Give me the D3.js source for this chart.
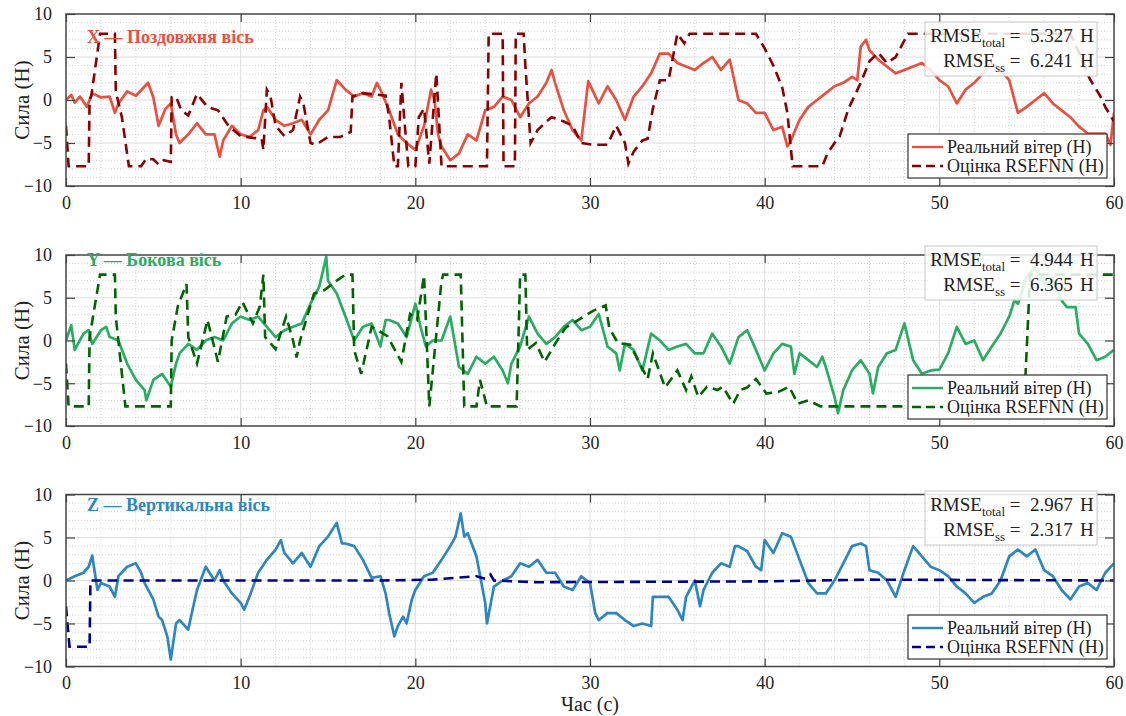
<!DOCTYPE html>
<html>
<head>
<meta charset="utf-8">
<script src="https://cdn.jsdelivr.net/npm/d3@7"></script>
<style>
  body { margin: 0; background: #fff; }
  svg text { font-family: "Liberation Serif", "Times New Roman", Tinos, "DejaVu Serif", serif; }
</style>
</head>
<body>
<svg id="chart" width="1126" height="716"></svg>
<script>
// time axis + y ticks
const xTicks = [0, 10, 20, 30, 40, 50, 60]
const yTicks = [-10, -5, 0, 5, 10]

const legendLabels = ['Реальний вітер (Н)', 'Оцінка RSEFNN (Н)']

// [t, value] pairs
const xReal = [[0,0],[0.3,0.6],[0.5,-0.3],[0.8,0.4],[1.2,-0.8],[1.5,0.8],[2,0.3],[2.5,0.4],[2.8,-1.5],[3,-0.4],[3.5,1],[4,0.5],[4.7,2],[5,0.3],[5.3,-3],[5.7,-1],[6,-0.4],[6.3,-4],[6.5,-5],[7,-4],[7.5,-2.7],[8,-4],[8.5,-4],[8.8,-6.6],[9,-4.7],[9.5,-3],[10,-4],[10.5,-4.3],[11,-3.5],[11.3,-1.2],[11.5,-0.8],[12,-2.3],[12.5,-3],[13,-2.7],[13.5,-2.3],[14,-4],[14.5,-2.3],[15,-1.2],[15.5,2.3],[16,1.2],[16.5,0.4],[17,0.8],[17.5,0.4],[17.8,2],[18,1.2],[18.5,-1.2],[19,-4],[19.5,-5],[20,-5.8],[20.5,-3],[20.9,1.2],[21.1,0],[21.3,-4],[21.5,-5.4],[22,-7],[22.5,-6.2],[23,-4],[23.5,-4.7],[24,-1.2],[24.5,-0.8],[25,0.4],[25.5,0],[26,-2],[26.5,-0.4],[27,0.4],[27.5,2],[27.8,3.5],[28,2],[28.5,-1.2],[29,-3.5],[29.5,-4.7],[29.9,2.2],[30.5,-0.4],[31,1.6],[31.5,0],[32,-2.3],[32.5,0.4],[33,1.6],[33.5,3.1],[34,5.4],[34.5,5.4],[35,4.3],[35.5,3.9],[36,3.5],[36.5,4.3],[37,5],[37.5,3.5],[38,4.7],[38.5,0],[39,-0.4],[39.5,-1.5],[40,-1.5],[40.5,-3.5],[41,-3.1],[41.3,-5.4],[41.5,-4.7],[42,-2.3],[42.5,-0.8],[43,0],[43.5,0.8],[44,1.6],[44.5,2],[45,2.7],[45.3,2.3],[45.5,6.2],[45.8,7],[46,5.8],[46.5,4.7],[47,3.9],[47.5,3.1],[48,3.5],[48.5,3.9],[49,4.3],[49.5,3.5],[50,2.3],[50.5,1.6],[51,-0.4],[51.5,1.2],[52,2],[52.5,3.1],[53,4.3],[53.5,3.5],[54,2.3],[54.3,0],[54.5,-1.5],[55,-0.8],[55.5,0],[56,0.8],[56.5,-0.4],[57,-1.2],[57.5,-2],[58,-3.1],[58.5,-3.9],[59,-3.9],[59.5,-3.9],[59.8,-5.2],[60,-1.5]]
const xEst = [[0,-3],[0.15,-7.7],[1.3,-7.7],[1.35,0],[1.45,0.5],[1.95,7.7],[2.8,7.7],[2.85,1],[3.2,-2],[3.6,-7.7],[4.3,-7.7],[4.6,-6.8],[5,-6.9],[5.3,-7.5],[5.6,-7],[6,-7.2],[6.05,0.3],[6.3,0.4],[6.6,-1.2],[7,-1.8],[7.5,0.7],[8.1,-0.8],[8.7,-1.2],[9.3,-3],[10,-4.2],[10.7,-4.4],[11.2,-4.5],[11.3,-5.8],[11.5,1.2],[11.7,0.5],[12,-3],[12.5,-4.2],[13,-3.5],[13.4,0.4],[13.6,-0.5],[14,-5],[14.3,-5.2],[15,-4.3],[15.7,-4.3],[16.3,-3.7],[16.4,0.4],[17,0.8],[18.3,0.5],[18.5,-2],[18.8,-7.7],[19,-7.7],[19.2,2],[19.4,-3],[19.6,-7.7],[20,-7.7],[20.2,-2],[20.5,-1],[20.8,-7.4],[21.2,3.1],[21.4,-4],[21.5,-7.7],[24.1,-7.7],[24.2,7.7],[25,7.7],[25.05,-7.7],[25.7,-7.7],[25.75,7.7],[26.2,7.7],[26.3,4],[26.6,-5],[27,-3.5],[27.5,-2.5],[27.8,-2],[28.5,-2.5],[29,-3],[29.5,-5],[30.2,-5.2],[31,-5.2],[31.5,-3],[32,-5],[32.2,-7.4],[32.5,-6],[33,-4.7],[33.3,-4.5],[33.6,-1],[34,2.3],[34.5,2.3],[35,7.7],[35.4,6.6],[35.7,7.7],[39.5,7.7],[40,6],[40.5,4],[41,1.5],[41.3,-1.5],[41.6,-7.7],[43.3,-7.7],[43.6,-6.2],[44,-5],[44.3,-4.2],[44.8,-1],[45.5,2],[46,4.5],[46.5,5.5],[47,4.3],[47.5,5],[48.2,7.7],[57.5,7.7],[58,5.5],[58.6,2.5],[59.2,0.5],[59.5,-0.8],[60,-2.5]]

const yReal = [[0,0],[0.3,1.8],[0.5,-1.1],[1,0.8],[1.3,1.2],[1.5,-0.4],[2,1.2],[2.3,1.6],[2.5,0.4],[3,0],[3.5,-2.7],[4,-4.6],[4.5,-5.8],[4.6,-7],[5,-4.6],[5.5,-3.9],[6,-5.4],[6.3,-2.7],[6.5,-1.5],[7,-0.4],[7.5,-1.1],[8,0],[8.5,0.4],[9,0],[9.5,2],[10,2.8],[10.5,2.4],[11,2.8],[11.5,1.6],[12,0.4],[12.5,1.2],[13,1.6],[13.5,2],[14,4.3],[14.5,6.3],[14.9,9.8],[15,7],[15.5,5.5],[16,2.8],[16.5,0],[17,1.6],[17.5,2],[18,-0.7],[18.3,2.4],[18.5,2.4],[19,2],[19.5,0.4],[20,4.3],[20.3,1.6],[20.6,-0.7],[21,0],[21.5,0],[22,2.8],[22.5,-3.1],[23,-3.9],[23.5,-1.9],[24,-2.7],[24.5,-1.9],[25,-3.5],[25.3,-5],[25.5,-2.7],[26,-0.7],[26.5,2.8],[27,0.8],[27.5,-0.4],[28,0.4],[28.5,1.6],[29,2.4],[29.5,1.2],[30,1.6],[30.5,3.1],[30.7,1.6],[31,-0.7],[31.5,-1.5],[31.7,-3.5],[32,-0.4],[32.5,-1.1],[33,-3.5],[33.5,0.8],[34,0],[34.5,-1.1],[35,-0.7],[35.5,-0.4],[36,-1.5],[36.5,-1.5],[37,0.8],[37.5,-0.7],[38,-2.7],[38.5,0.4],[39,1.2],[39.5,-1.1],[40,-3.5],[40.5,-1.5],[41,-0.4],[41.5,-0.7],[41.7,-3.9],[42,-1.5],[42.5,-2.3],[43,-3.1],[43.3,-1.9],[43.5,-3.1],[44,-6.6],[44.2,-8.5],[44.5,-5.8],[45,-3.5],[45.5,-2.3],[46,-3.9],[46.2,-6.2],[46.5,-3.1],[47,-1.5],[47.5,-1.1],[48,2],[48.5,-2.3],[49,-3.9],[49.5,-3.5],[50,-3.4],[50.5,-1.5],[51,1.6],[51.5,-0.4],[52,0],[52.5,-2.3],[53,-0.7],[53.5,0.8],[54,2.8],[54.3,4.7],[54.5,4.3],[55,7.4],[55.5,8.6],[56,6.6],[56.5,7],[57,4.7],[57.3,3.9],[57.8,3.9],[58,0.8],[58.5,-0.4],[59,-2.3],[59.5,-1.9],[60,-1.1]]
const yEst = [[0,-2.7],[0.15,-7.7],[1.3,-7.7],[1.35,0.4],[1.95,7.7],[2.8,7.7],[2.85,2.8],[3.4,-7.7],[6,-7.7],[6.05,0],[6.4,4],[6.9,6.6],[7,0.4],[7.5,-2.7],[8.1,2.4],[8.7,-2.5],[9.2,2.8],[9.7,3],[10.1,4.5],[10.7,2],[11.1,4],[11.3,7.7],[11.4,0.4],[12,-1],[12.6,2.8],[13,0],[13.2,-2],[13.4,0],[14.2,5.5],[14.8,5.9],[15.5,7],[16,7.7],[16.4,7.7],[16.5,-1.1],[16.9,-3.9],[17.5,1.6],[18.4,0.5],[19.2,-2.5],[19.7,3.1],[20.1,2.4],[20.5,7.6],[20.8,-7.7],[21.5,7],[21.6,7.7],[22.6,7.7],[22.8,-7.7],[23.5,-7.7],[23.7,-4.6],[24.1,-7.7],[25.8,-7.7],[26,7.7],[26.3,7.7],[26.4,-1.1],[26.9,-0.3],[27.4,-2.5],[28,-0.4],[28.6,1.5],[30.2,3.5],[30.9,4.1],[31.1,1.5],[31.6,-0.3],[32.3,-0.5],[33.3,-4.5],[33.6,-1.5],[34.3,-5.5],[35,-3.5],[35.5,-5.8],[35.8,-4.2],[36.2,-6.6],[36.7,-5.4],[37.3,-5.8],[37.6,-5.4],[38.2,-7.4],[38.6,-5.8],[39,-5.5],[39.5,-4.5],[40.1,-6.2],[40.8,-6],[41.4,-5.4],[41.9,-7.4],[42.5,-7],[43.2,-7.7],[54.85,-7.7],[55.2,7.7],[60,7.7]]

const zReal = [[0,0],[0.5,0.5],[1,0.9],[1.3,1.6],[1.5,2.9],[1.8,-1.1],[2,-0.3],[2.5,-0.7],[2.8,-1.9],[3,0.5],[3.5,1.6],[4,2],[4.3,0.9],[4.5,-0.3],[5,-2.2],[5.3,-4.2],[5.5,-4.6],[5.8,-6.5],[6,-9.2],[6.3,-5],[6.5,-4.6],[7,-5.7],[7.2,-3.8],[7.5,-1.1],[8,1.6],[8.5,0],[8.8,1.2],[9,0],[9.5,-1.5],[10,-2.6],[10.2,-3.4],[10.5,-1.9],[11,0.9],[11.5,2.4],[12,3.6],[12.3,4.7],[12.5,3.2],[13,2],[13.5,3.2],[14,1.6],[14.5,4],[15,5.1],[15.5,6.7],[15.8,4.3],[16,4.3],[16.5,4],[17,2.4],[17.5,0.3],[18,0.5],[18.3,-1.5],[18.5,-3.8],[18.8,-6.5],[19,-5.3],[19.3,-4.2],[19.5,-5],[19.8,-2.2],[20,-1.1],[20.5,0.5],[21,0.9],[21.5,2.4],[22,4],[22.3,5.1],[22.6,7.8],[22.8,5.1],[23,5.5],[23.5,2.8],[24,-2.6],[24.1,-5],[24.5,-0.7],[25,0],[25.5,0.5],[26,2],[26.5,1.6],[27,2.4],[27.5,0.9],[28,0.9],[28.5,-0.7],[29,-1.1],[29.5,0.5],[30,-0.3],[30.3,-3.8],[30.5,-4.6],[31,-3.8],[31.5,-3.8],[32,-4.6],[32.5,-5.3],[33,-5],[33.5,-5.3],[33.6,-1.9],[34,-1.9],[34.5,-1.9],[35,-3.4],[35.3,-4.6],[35.5,-1.9],[36,0],[36.3,-3],[36.5,-1.1],[37,0.9],[37.5,2],[38,1.6],[38.3,4],[38.5,4],[39,3.4],[39.5,1.6],[39.8,1.2],[40,4.7],[40.5,3.2],[41,5.5],[41.5,5.1],[42,2.4],[42.5,-0.3],[43,-1.5],[43.5,-1.5],[44,0],[44.5,2],[45,4],[45.5,4.3],[45.8,4],[46,1.2],[46.5,0.9],[47,0],[47.5,-1.9],[48,1.2],[48.5,4],[49,2.8],[49.5,1.6],[50,1.2],[50.5,0.5],[51,-0.7],[51.5,-1.5],[52,-2.6],[52.5,-1.9],[53,-1.5],[53.5,0],[54,2.8],[54.5,3.6],[55,2.8],[55.5,3.6],[56,1.2],[56.5,0.5],[57,-1.1],[57.5,-2.2],[58,-0.7],[58.5,-0.3],[59,-1.1],[59.5,0.9],[60,2]]
const zEst = [[0,-3],[0.2,-7.7],[1.35,-7.7],[1.4,0],[18,0],[21,0.1],[23.5,0.5],[24,0.2],[24.3,0.7],[24.5,0],[27,-0.2],[40,-0.1],[46,0.1],[60,0]]

const panelNames = ['X — Поздовжня вісь', 'Y — Бокова вісь', 'Z — Вертикальна вісь']
const rmseTotal = ['5.327', '4.944', '2.967']
const rmseSs = ['6.241', '6.365', '2.317']

const panels = [
    { real: xReal, est: xEst, c1: '#e8503f', c2: '#8b0000', top: 14, bottom: 186, box: 22, leg: 134, name: 43 },
    { real: yReal, est: yEst, c1: '#2aad62', c2: '#006400', top: 255, bottom: 426, box: 246, leg: 375, name: 266 },
    { real: zReal, est: zEst, c1: '#2e86c1', c2: '#00008b', top: 494.5, bottom: 666.5, box: 491, leg: 615, name: 511 }
]

const serif = '"Liberation Serif", "Times New Roman", Tinos, "DejaVu Serif", serif'
const svg = d3.select('#chart').attr('font-family', serif)
const x = d3.scaleLinear().domain([0, 60]).range([66, 1114])
const left = 66, right = 1114

panels.forEach((p, i) => {
    const y = d3.scaleLinear().domain([-10, 10]).range([p.bottom, p.top])
    const g = svg.append('g')

    g.append('clipPath').attr('id', 'clip' + i)
      .append('rect')
        .attr('x', left).attr('y', p.top)
        .attr('width', right - left).attr('height', p.bottom - p.top)

    // minor grid
    g.append('g').selectAll('line')
      .data(d3.range(0, 61, 2).filter(t => t % 10))
      .join('line')
        .attr('x1', d => x(d)).attr('x2', d => x(d))
        .attr('y1', p.top).attr('y2', p.bottom)
        .attr('stroke', '#d4d4d4').attr('stroke-dasharray', '1,2')
    g.append('g').selectAll('line')
      .data(d3.range(-10, 11, 1).filter(v => v % 5))
      .join('line')
        .attr('x1', left).attr('x2', right)
        .attr('y1', d => y(d)).attr('y2', d => y(d))
        .attr('stroke', '#d4d4d4').attr('stroke-dasharray', '1,2')

    // major grid
    g.append('g').selectAll('line')
      .data(xTicks.slice(1, -1))
      .join('line')
        .attr('x1', d => x(d)).attr('x2', d => x(d))
        .attr('y1', p.top).attr('y2', p.bottom)
        .attr('stroke', '#dcdcdc')
    g.append('g').selectAll('line')
      .data(yTicks.slice(1, -1))
      .join('line')
        .attr('x1', left).attr('x2', right)
        .attr('y1', d => y(d)).attr('y2', d => y(d))
        .attr('stroke', '#dcdcdc')

    const line = d3.line().x(d => x(d[0])).y(d => y(d[1]))

    const plot = g.append('g').attr('clip-path', `url(#clip${i})`)
    plot.append('path').datum(p.real)
        .attr('d', line)
        .attr('fill', 'none').attr('stroke', p.c1)
        .attr('stroke-width', 2.7).attr('stroke-linejoin', 'round')
    plot.append('path').datum(p.est)
        .attr('d', line)
        .attr('fill', 'none').attr('stroke', p.c2)
        .attr('stroke-width', 2.6).attr('stroke-dasharray', '10,6')

    // axes with inward ticks
    const axB = g.append('g').attr('transform', `translate(0,${p.bottom})`)
        .call(d3.axisBottom(x).tickValues(xTicks).tickSize(-8).tickPadding(10))
    const axT = g.append('g').attr('transform', `translate(0,${p.top})`)
        .call(d3.axisTop(x).tickValues(xTicks).tickSize(-8).tickFormat(''))
    const axL = g.append('g').attr('transform', `translate(${left},0)`)
        .call(d3.axisLeft(y).tickValues(yTicks).tickSize(-9).tickPadding(14))
    const axR = g.append('g').attr('transform', `translate(${right},0)`)
        .call(d3.axisRight(y).tickValues(yTicks).tickSize(-9).tickFormat(''))
    ;[axB, axT, axL, axR].forEach(a => {
        a.attr('font-family', serif)
        a.select('.domain').remove()
        a.selectAll('line').attr('stroke', '#444').attr('stroke-width', 1.2)
        a.selectAll('text').attr('font-size', 18).attr('fill', '#222')
    })
    axB.selectAll('text').attr('dy', '0.7em')

    g.append('rect')
        .attr('x', left).attr('y', p.top)
        .attr('width', right - left).attr('height', p.bottom - p.top)
        .attr('fill', 'none').attr('stroke', '#444').attr('stroke-width', 1.5)

    g.append('text')
        .attr('transform', `translate(22,${(p.top + p.bottom) / 2}) rotate(-90)`)
        .attr('text-anchor', 'middle').attr('dy', '0.35em')
        .attr('font-size', 21).attr('fill', '#222')
        .text('Сила (Н)')

    // panel name
    g.append('text')
        .attr('x', 87).attr('y', p.name)
        .attr('font-size', 18).attr('font-weight', 'bold')
        .attr('fill', p.c1)
        .text(panelNames[i])

    // rmse box
    const rb = g.append('g')
    rb.append('rect')
        .attr('x', 925).attr('y', p.box)
        .attr('width', 172).attr('height', 54)
        .attr('fill', 'white').attr('fill-opacity', 0.85)
        .attr('stroke', '#c8c8c8')
    const rows = [['total', rmseTotal[i]], ['ss', rmseSs[i]]]
    rows.forEach((r, k) => {
        const by = p.box + 20 + k * 25
        const t = rb.append('text')
            .attr('x', 1005).attr('y', by)
            .attr('text-anchor', 'end')
            .attr('font-size', 19).attr('fill', '#222')
        t.append('tspan').text('RMSE')
        t.append('tspan').attr('font-size', 13).attr('dy', 5).text(r[0])
        rb.append('text').attr('x', 1015).attr('y', by)
            .attr('text-anchor', 'middle').attr('font-size', 19).attr('fill', '#222').text('=')
        rb.append('text').attr('x', 1030).attr('y', by)
            .attr('font-size', 19).attr('fill', '#222').text(r[1])
        rb.append('text').attr('x', 1080).attr('y', by)
            .attr('font-size', 19).attr('fill', '#222').text('Н')
    })

    // legend
    const lg = g.append('g')
    lg.append('rect')
        .attr('x', 908).attr('y', p.leg)
        .attr('width', 199).attr('height', 44)
        .attr('fill', 'white').attr('stroke', '#333').attr('stroke-width', 1.2)
    legendLabels.forEach((lab, k) => {
        const ly = p.leg + 13 + k * 19
        lg.append('line')
            .attr('x1', 912).attr('x2', 943)
            .attr('y1', ly).attr('y2', ly)
            .attr('stroke', k ? p.c2 : p.c1)
            .attr('stroke-width', k ? 2.6 : 2.4)
            .attr('stroke-dasharray', k ? '9,5' : null)
        lg.append('text')
            .attr('x', 947).attr('y', ly).attr('dy', '0.35em')
            .attr('font-size', 18).attr('fill', '#222')
            .text(lab)
    })
})

svg.append('text')
    .attr('x', 590).attr('y', 704).attr('dy', '0.35em')
    .attr('text-anchor', 'middle')
    .attr('font-size', 20).attr('fill', '#222')
    .text('Час (с)')
</script>
</body>
</html>
